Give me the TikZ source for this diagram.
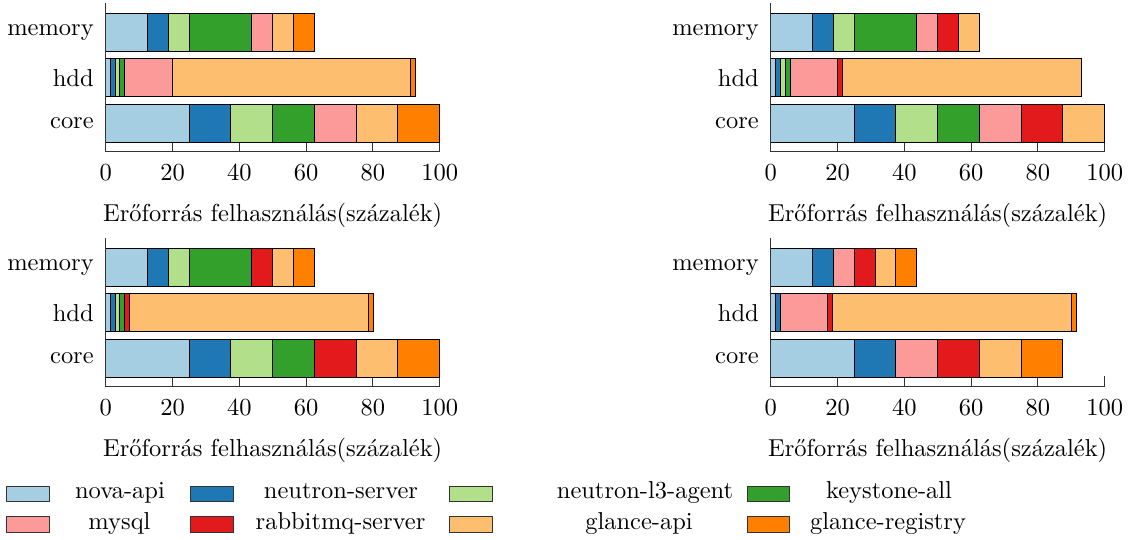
\documentclass[tikz,border=0pt]{standalone}
\usepackage{fontspec}

% Paired colour scheme, one colour per service
\definecolor{novaapi}{HTML}{A6CEE3}
\definecolor{neutronsrv}{HTML}{1F78B4}
\definecolor{neutronlth}{HTML}{B2DF8A}
\definecolor{keystone}{HTML}{33A02C}
\definecolor{mysqlc}{HTML}{FB9A99}
\definecolor{rabbitmq}{HTML}{E31A1C}
\definecolor{glanceapi}{HTML}{FDBF6F}
\definecolor{glancereg}{HTML}{FF7F00}

\tikzset{
  seg/.style={draw=black, line width=0.4pt},
  axisline/.style={line width=0.4pt, black!80},
  ticklab/.style={anchor=base, inner sep=0pt},
  ylab/.style={anchor=east, inner sep=0pt},
  xlab/.style={anchor=base, inner sep=0pt},
  swatch/.style={draw=black!80, line width=0.4pt, inner sep=0pt,
                 minimum width=17.2pt, minimum height=6.5pt},
  legtext/.style={anchor=base, inner sep=0pt},
}

% one stacked bar: #1 top edge, #2 list of colour/value (percent)
\newcommand\stackbar[2]{%
  \gdef\segstart{0}%
  \foreach \segcol/\segval in {#2}{%
    \pgfmathsetmacro\segend{\segstart+\segval}%
    \filldraw[seg, fill=\segcol] (\segstart*3.34,#1) rectangle (\segend*3.34,#1+38);
    \xdef\segstart{\segend}%
  }}

% one chart: #1 origin shift, #2 name prefix, #3 memory, #4 hdd, #5 core
\newcommand\usagechart[5]{%
  \begin{scope}[shift={#1}]
    \foreach \t in {0,20,...,100}{%
      \draw[axisline] (\t*3.34,151) -- (\t*3.34,141);
      \node[ticklab] (#2-t\t) at (\t*3.34,180) {\t};
    }
    \stackbar{13.3}{#3}
    \stackbar{58.9}{#4}
    \stackbar{104.5}{#5}
    \draw[axisline] (0,3) -- (0,151) -- (334,151);
    \node[ylab] (#2-mem) at (-11.5,32.3) {memory};
    \node[ylab] (#2-hdd) at (-11.5,77.9) {hdd};
    \node[ylab] (#2-core) at (-11.5,123.5) {core};
    \node[xlab] (#2-xl) at (167,221) {Erőforrás felhasználás(százalék)};
  \end{scope}}

\begin{document}
\begin{tikzpicture}[x=0.4085pt, y=-0.4085pt]
  \useasboundingbox (0,0) rectangle (1133,539);

  \usagechart{(105.7,0)}{a}
    {novaapi/12.5, neutronsrv/6.25, neutronlth/6.25, keystone/18.75, mysqlc/6.25, glanceapi/6.25, glancereg/6.25}
    {novaapi/1.4, neutronsrv/1.4, neutronlth/1.3, keystone/1.5, mysqlc/14.4, glanceapi/71.3, glancereg/1.5}
    {novaapi/25, neutronsrv/12.5, neutronlth/12.5, keystone/12.5, mysqlc/12.5, glanceapi/12.5, glancereg/12.5}

  \usagechart{(770.7,0)}{b}
    {novaapi/12.5, neutronsrv/6.25, neutronlth/6.25, keystone/18.75, mysqlc/6.25, rabbitmq/6.25, glanceapi/6.25}
    {novaapi/1.4, neutronsrv/1.5, neutronlth/1.4, keystone/1.5, mysqlc/14.2, rabbitmq/1.5, glanceapi/71.5}
    {novaapi/25, neutronsrv/12.5, neutronlth/12.5, keystone/12.5, mysqlc/12.5, rabbitmq/12.5, glanceapi/12.5}

  \usagechart{(105.7,235)}{c}
    {novaapi/12.5, neutronsrv/6.25, neutronlth/6.25, keystone/18.75, rabbitmq/6.25, glanceapi/6.25, glancereg/6.25}
    {novaapi/1.4, neutronsrv/1.4, neutronlth/1.4, keystone/1.4, rabbitmq/1.6, glanceapi/71.4, glancereg/1.5}
    {novaapi/25, neutronsrv/12.5, neutronlth/12.5, keystone/12.5, rabbitmq/12.5, glanceapi/12.5, glancereg/12.5}

  \usagechart{(770.7,235)}{d}
    {novaapi/12.5, neutronsrv/6.25, mysqlc/6.25, rabbitmq/6.25, glanceapi/6.25, glancereg/6.25}
    {novaapi/1.4, neutronsrv/1.5, mysqlc/14.2, rabbitmq/1.5, glanceapi/71.5, glancereg/1.5}
    {novaapi/25, neutronsrv/12.5, mysqlc/12.5, rabbitmq/12.5, glanceapi/12.5, glancereg/12.5}

  % legend
  \node[swatch, fill=novaapi]    (ls1) at (28,494)    {};
  \node[legtext]                 (lt1) at (120,498.5) {nova-api};
  \node[swatch, fill=neutronsrv] (ls2) at (212,494)   {};
  \node[legtext]                 (lt2) at (341,498.5) {neutron-server};
  \node[swatch, fill=neutronlth] (ls3) at (471,494)   {};
  \node[legtext]                 (lt3) at (645,498.5) {neutron-l3-agent};
  \node[swatch, fill=keystone]   (ls4) at (768.5,494) {};
  \node[legtext]                 (lt4) at (889,498.5) {keystone-all};

  \node[swatch, fill=mysqlc]     (ls5) at (28,524.5)    {};
  \node[legtext]                 (lt5) at (119.5,529)   {mysql};
  \node[swatch, fill=rabbitmq]   (ls6) at (212,524.5)   {};
  \node[legtext]                 (lt6) at (340.5,529)   {rabbitmq-server};
  \node[swatch, fill=glanceapi]  (ls7) at (471,524.5)   {};
  \node[legtext]                 (lt7) at (639,529)     {glance-api};
  \node[swatch, fill=glancereg]  (ls8) at (768.5,524.5) {};
  \node[legtext]                 (lt8) at (888,529)     {glance-registry};
\end{tikzpicture}
\end{document}
